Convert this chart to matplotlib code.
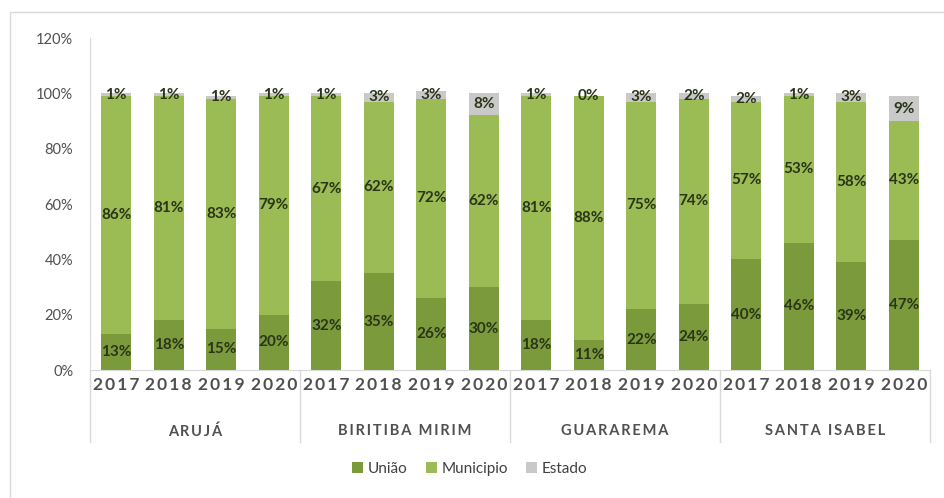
import matplotlib.pyplot as plt
import matplotlib.patches as mpatches
import numpy as np

# data
cidades = ['ARUJÁ', 'BIRITIBA MIRIM', 'GUARAREMA', 'SANTA ISABEL']
anos = ['2017', '2018', '2019', '2020']
uniao = [13, 18, 15, 20, 32, 35, 26, 30, 18, 11, 22, 24, 40, 46, 39, 47]
municipio = [86, 81, 83, 79, 67, 62, 72, 62, 81, 88, 75, 74, 57, 53, 58, 43]
estado = [1, 1, 1, 1, 1, 3, 3, 8, 1, 0, 3, 2, 2, 1, 3, 9]

plt.rcParams['font.family'] = ['Lato', 'DejaVu Sans']

c_uniao = '#7b9a3c'
c_mun = '#9bbb55'
c_est = '#c9c9c9'
txt = '#505050'

fig = plt.figure(figsize=(9.45, 4.98), dpi=100)
# outer chart border
fig.patches.append(mpatches.Rectangle((10/945, -0.1), 1.1, 1 - 12/498 + 0.1,
                                      transform=fig.transFigure, fill=False,
                                      edgecolor='#d9d9d9', lw=1))
ax = fig.add_axes([90/945, 1 - 370/498, 840/945, 332/498])

n = len(uniao)
x = np.arange(n)
u = np.array(uniao) / 100
m = np.array(municipio) / 100
e = np.array(estado) / 100
w = 0.57
b1 = ax.bar(x, u, w, color=c_uniao, label='União')
b2 = ax.bar(x, m, w, bottom=u, color=c_mun, label='Municipio')
b3 = ax.bar(x, e, w, bottom=u + m, color=c_est, label='Estado')

for bars, vals in [(b1, uniao), (b2, municipio), (b3, estado)]:
    ax.bar_label(bars, labels=[f'{v}%' for v in vals], label_type='center',
                 fontsize=11, fontweight='bold', color='#2a3518')

ax.set_xlim(-0.5, n - 0.5)
ax.set_ylim(0, 1.2)
ax.set_yticks(np.arange(0, 1.21, 0.2))
ax.set_yticklabels([f'{int(round(t*100))}%' for t in np.arange(0, 1.21, 0.2)],
                   fontsize=10.5, color=txt)
ax.tick_params(axis='y', length=0, pad=12)
ax.set_xticks(x)
ax.set_xticklabels(['\u2009'.join(a) for a in anos * len(cidades)], fontsize=12.5,
                   fontweight='bold', color=txt)
ax.tick_params(axis='x', length=0, pad=5)

for s in ['top', 'right']:
    ax.spines[s].set_visible(False)
ax.spines['left'].set_color('#d9d9d9')
ax.spines['bottom'].set_color('#d9d9d9')

# group separators and names
for i in range(len(cidades) + 1):
    ax.plot([i*4 - 0.5, i*4 - 0.5], [0, -0.26], color='#d9d9d9', lw=1,
            clip_on=False)
for i, c in enumerate(cidades):
    ax.text(i*4 + 1.5, -0.222, '\u2009'.join(c), ha='center', va='center',
            fontsize=10.5, fontweight='bold', color=txt)

ax.legend(loc='center', bbox_to_anchor=(0.452, -0.298), ncol=3, frameon=False,
          fontsize=11, handlelength=0.7, handleheight=0.7, handletextpad=0.3,
          columnspacing=1.2, labelcolor='#404040')

plt.savefig('out.png', dpi=100)
